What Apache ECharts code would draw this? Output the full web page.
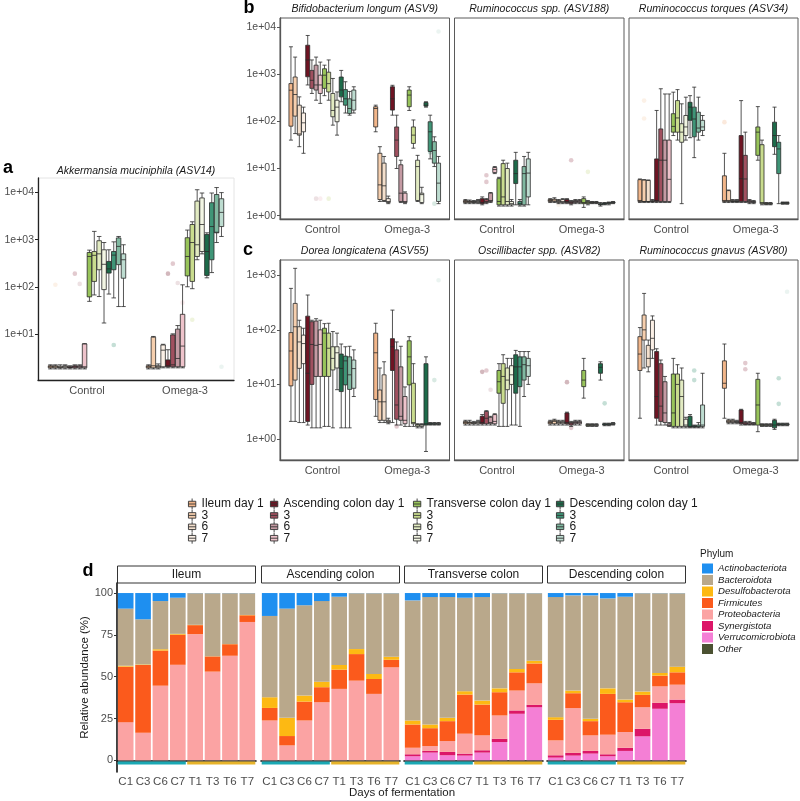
<!DOCTYPE html>
<html><head><meta charset="utf-8">
<script src="https://cdn.jsdelivr.net/npm/echarts@6/dist/echarts.min.js"></script>
<style>html,body{margin:0;padding:0;background:#fff}#c{width:800px;height:801px}</style>
</head><body><div id="c"></div>
<script>
// ---------------- DATA ----------------
const groups = ['Control', 'Omega-3'];
const boxNames = ['Ileum day 1','Ileum 3','Ileum 6','Ileum 7',
  'Ascending colon day 1','Ascending colon 3','Ascending colon 6','Ascending colon 7',
  'Transverse colon day 1','Transverse colon 3','Transverse colon 6','Transverse colon 7',
  'Descending colon day 1','Descending colon 3','Descending colon 6','Descending colon 7'];
const panelTitles = ['Akkermansia muciniphila (ASV14)','Bifidobacterium longum (ASV9)','Ruminococcus spp. (ASV188)',
  'Ruminococcus torques (ASV34)','Dorea longicatena (ASV55)','Oscillibacter spp. (ASV82)','Ruminococcus gnavus (ASV80)'];
const logTicksAB = [1, 10, 100, 1000, 10000];
const logTicksC = [1, 10, 100, 1000];

// [min, Q1, median, Q3, max] per box, order as boxNames
const akkControl = [[1.8,1.9,2.0,2.1,2.2],[1.8,1.9,2.0,2.1,2.2],[1.8,1.9,1.95,2.05,2.2],[1.8,1.9,2.0,2.1,2.2],
  [1.8,1.9,1.95,2.0,2.1],[1.8,1.9,2.0,2.1,2.2],[1.8,1.9,2.0,2.1,2.2],[1.8,1.9,2.0,6.1,6.2],
  [49,61,440,535,600],[67,130,465,560,1500],[62,230,500,950,1170],[17,87,300,610,870],
  [70,195,240,345,610],[58,230,470,560,900],[38,295,720,1090,1170],[38,152,375,500,780]];
const akkOmega = [[1.8,1.9,2.0,2.1,2.2],[1.8,1.9,2.1,8.5,8.8],[1.8,1.9,2.0,2.1,2.3],[1.9,2.0,4.5,5.8,6.0],
  [1.9,2.0,2.1,2.8,4.6],[1.9,2.0,2.2,9.5,10],[1.9,2.0,3.0,12.6,15],[1.9,2.0,5.5,26,110],
  [100,170,440,1100,1600],[91,130,870,2100,2400],[375,440,780,6600,11500],[500,560,2100,7700,9800],
  [155,174,560,1290,1400],[200,375,1900,6100,9800],[870,1400,1440,9100,12800],[1170,1900,3800,7400,10000]];
const akkOutliers = [[0,1,110],[0,5,190],[0,6,115],[0,13,5.8],[1,4,190],[1,5,310],[1,6,120],[1,7,46],[1,9,20],[1,15,2]];

const bifControl = [[40,79,457,631,3800],[55,129,370,870,2300],[29,51,54,220,330],[21,60,93,150,200],
  [590,880,2000,4100,6600],[390,500,740,1200,2000],[280,460,590,1550,2300],[240,390,590,950,1800],
  [350,500,950,1300,1550],[280,420,630,1100,2000],[83,125,170,390,810],[51,98,200,280,420],
  [260,330,460,870,1200],[150,220,300,470,690],[135,147,187,300,430],[150,173,280,460,540]];
const bifOmega = [[60,76,187,204,220],[2,2.2,4.5,21,29],[2,2.1,4.3,13,18],[1.8,1.9,2,2.3,2.6],
  [135,173,300,540,580],[10,18,40,76,135],[1.9,2,3,12,15],[1.8,1.9,2,3,3.2],
  [170,204,360,460,540],[27,34,51,76,107],[2,2.1,11,15,19],[1.8,1.9,2.8,3,4],
  [200,210,220,250,260],[16,23,60,98,135],[11,13,24,37,47],[1.8,2,4.9,13,18]];
const bifOutliers = [[0,6,2.3],[0,7,2.3],[0,9,2.3],[1,15,8000],[1,13,22],[1,14,1.8]];

const rspControl = [[1.8,1.9,2.0,2.1,2.2],[1.8,1.9,2.0,2.05,2.15],[1.8,1.9,1.95,2.0,2.1],[1.8,1.9,2.0,2.1,2.2],
  [1.7,1.8,1.9,2.3,2.5],[1.8,1.9,2.0,2.2,2.3],[1.9,2.0,2.1,3.0,3.1],[7.8,8.2,9.5,10.5,11],
  [1.6,1.7,2.0,6.1,6.5],[1.6,1.7,2.5,12.7,15],[1.6,1.7,2.0,10,13],[1.6,1.7,1.8,2.0,2.2],
  [1.7,4.8,7.8,15,22],[1.6,1.7,1.8,2.0,2.2],[1.6,1.7,7.8,11,18],[1.7,2.5,8,16,22]];
const rspOmega = [[1.9,2.0,2.1,2.2,2.3],[1.9,2.0,2.15,2.25,2.4],[1.8,1.9,2.0,2.1,2.2],[1.8,1.9,2.0,2.2,2.3],
  [1.8,1.9,2.0,2.2,2.3],[1.7,1.8,1.9,2.0,2.1],[1.8,1.9,2.0,2.1,2.2],[1.8,1.9,2.0,2.1,2.2],
  [1.5,1.8,1.9,2.3,2.5],[1.7,1.8,1.9,2.0,2.1],[1.8,1.85,1.9,1.95,2.0],[1.8,1.85,1.9,1.95,2.0],
  [1.6,1.7,1.75,1.8,1.9],[1.7,1.75,1.8,1.85,1.9],[1.7,1.8,1.85,1.9,1.95],[1.8,1.85,1.9,1.95,2.0]];
const rspOutliers = [[0,5,7.2],[0,5,5.2],[1,5,15],[1,9,8.5],[1,2,1.7]];

const rtoControl = [[1.9,2.0,2.1,5.8,6.0],[1.9,2.0,2.0,5.7,5.8],[1.9,2.0,2.0,5.6,5.7],[1.9,2.0,2.0,2.1,2.2],
  [1.9,2.0,2.1,16,170],[1.9,2.0,15,69,490],[1.9,2.0,15,40,380],[1.9,2.0,5.9,40,380],
  [50,59,78,145,415],[40,59,118,275,470],[1.8,36,59,89,235],[40,50,76,133,325],
  [45,105,200,253,350],[17,47,112,200,530],[40,59,72,156,325],[50,64,76,105,133]];
const rtoOmega = [[1.9,2.0,2.1,7.0,21],[1.9,2.0,2.1,3.4,3.5],[1.9,2.0,2.0,2.1,2.2],[1.9,2.0,2.0,2.1,2.2],
  [1.9,2.0,6.1,50,275],[1.9,2.0,6.0,19,59],[1.8,1.9,2.0,2.1,2.2],[1.8,1.9,1.95,2.0,2.1],
  [15,19,59,76,205],[1.7,1.8,1.9,32,40],[1.7,1.75,1.8,1.85,1.9],[1.7,1.75,1.8,1.85,1.9],
  [20,29,50,96,200],[1.8,7.8,26,36,50],[1.75,1.8,1.85,1.9,1.95],[1.75,1.8,1.85,1.9,1.95]];
const rtoOutliers = [[0,1,275],[0,1,115],[1,0,96]];

const dorControl = [[2.1,9.4,41,89,575],[2.1,12,114,305,1340],[2.0,19.7,60,114,150],[2.0,24,56,80,107],
  [1.8,2.1,16,178,435],[1.6,10,54,141,150],[1.6,14,52,145,160],[1.6,14,54,100,150],
  [1.7,14,87,107,130],[1.7,14,46,87,132],[1.6,18.4,30,49,93],[8,20,38,49,87],
  [1.6,7.4,19.6,36,55],[1.6,9.8,27,33,49],[1.6,8.1,15,32,50],[6,8.5,19.5,28,43]];
const dorOmega = [[2.6,5.3,38,87,132],[2.0,2.2,4.8,7.9,20],[2.0,2.2,4.8,15,26],[1.9,2.0,2.1,2.2,2.4],
  [2.0,18,49,69,230],[1.8,2.3,4.2,43,60],[1.8,2.2,2.6,21,50],[1.7,1.9,2.2,6,9],
  [1.7,9.8,32,63,75],[1.7,1.9,2.0,10.5,24],[1.6,1.7,1.8,1.85,1.9],[1.6,1.7,1.8,1.85,1.9],
  [0.59,1.8,1.9,24,32],[1.8,1.85,1.9,1.95,2.0],[1.8,1.85,1.9,1.95,2.0],[1.8,1.85,1.9,1.95,2.0]];
const dorOutliers = [[1,15,810],[1,14,12],[1,5,1.7]];

const oscControl = [[1.8,1.9,2.0,2.1,2.2],[1.8,1.9,2.0,2.05,2.2],[1.8,1.9,1.95,2.0,2.1],[1.8,1.9,2.0,2.1,2.2],
  [1.8,1.9,2.0,2.6,2.8],[1.8,1.9,2.4,3.2,3.3],[1.8,1.9,2.0,2.5,2.6],[1.8,1.9,2.1,2.8,2.9],
  [1.7,6.9,11.2,18,24],[1.7,4.5,14,24,35],[1.7,8,12,20,30],[1.8,10,15,22,30],
  [1.8,6.9,21,35,42],[1.7,9.1,21,32,40],[6,12,23,32,40],[10,14,22,30,40]];
const oscOmega = [[1.8,1.9,2.0,2.1,2.2],[1.8,1.9,2.1,2.2,2.3],[1.8,1.9,2.0,2.1,2.2],[1.8,1.9,2.0,2.1,2.2],
  [1.8,1.9,2.0,3.0,3.1],[1.7,1.8,1.9,2.0,2.1],[1.8,1.9,2.0,2.1,2.2],[1.8,1.9,2.0,2.1,2.2],
  [5.6,9.1,12,18,30],[1.7,1.75,1.8,1.85,1.9],[1.7,1.75,1.8,1.85,1.9],[1.7,1.75,1.8,1.85,1.9],
  [12,16,20.6,24,26],[1.75,1.8,1.85,1.9,1.95],[1.75,1.8,1.85,1.9,1.95],[1.8,1.85,1.9,1.95,2.0]];
const oscOutliers = [[0,5,18],[0,4,17],[0,6,8],[1,4,11],[1,13,4.5],[1,5,1.6]];

const rgnControl = [[2.4,18,36,75,110],[20,65,100,187,465],[17,21,30,52,65],[30,43,70,150,180],
  [1.8,2.4,6,40,45],[1.8,2.1,4,24,28],[1.8,2.0,3,11.2,14],[1.7,1.75,1.8,1.9,2.0],
  [1.6,1.7,3,15.5,30],[1.6,1.7,10,15.5,23],[1.6,1.7,6,12,20],[1.6,1.7,1.8,2.3,2.5],
  [1.6,1.65,1.7,2.6,2.8],[1.6,1.65,1.7,1.75,1.8],[1.6,1.65,1.7,1.8,2.0],[1.6,1.7,1.8,4.2,16]];
const rgnOmega = [[2.4,8.5,10.5,27,55],[1.9,2.0,2.1,2.2,2.3],[1.9,2.0,2.1,2.2,2.3],[1.9,2.0,2.05,2.1,2.2],
  [1.8,1.9,2.0,3.4,3.5],[1.8,1.85,1.9,2.0,2.1],[1.8,1.85,1.9,2.0,2.1],[1.8,1.85,1.9,1.95,2.0],
  [1.36,1.8,4.2,12.4,16],[1.7,1.75,1.8,1.85,1.9],[1.7,1.75,1.8,1.85,1.9],[1.7,1.75,1.8,1.85,1.9],
  [1.5,1.6,1.8,2.2,2.3],[1.75,1.8,1.85,1.9,1.95],[1.75,1.8,1.85,1.9,1.95],[1.75,1.8,1.85,1.9,1.95]];
const rgnOutliers = [[1,5,24.6],[1,5,19],[1,13,13],[1,13,4.4],[1,15,500],[0,13,18],[0,13,12]];

// Panel d
const days = ['C1','C3','C6','C7','T1','T3','T6','T7'];
const sites = ['Ileum','Ascending colon','Transverse colon','Descending colon'];
const phylumNames = ['Actinobacteriota','Bacteroidota','Desulfobacterota','Firmicutes','Proteobacteria','Synergistota','Verrucomicrobiota','Other'];
const conditionSpans = [[0,3,0],[4,7,1]]; // first day idx, last day idx, condition (Control / Omega-3)
const actinobacteriota = [[9.3,15.7,4.8,2.8,0.1,0.1,0.1,0.1],[13.7,9.3,7.3,4.8,2.2,0.1,0.1,0.1],
  [4.4,2.4,2.4,2.8,2.4,0.1,0.1,0.1],[2.4,1.4,1.4,3.2,2.2,0.1,0.1,0.1]];
const bacteroidota = [[34.2,27,28.8,21.6,18.9,37.7,30.4,13],[48.6,65.3,54,48.2,40.8,33.4,48.3,38],
  [71.8,76.2,72.2,55.9,61.9,56.9,45.3,40.4],[71.8,56.9,73.8,53.8,61.5,58.8,47.7,43.9]];
const desulfobacterota = [[0.5,0.3,0.8,0.5,0.2,0.1,0.1,0.2],[6.4,10.9,3.6,3.3,2.8,3,3,1.8],
  [2.4,2.2,2,2,2.4,2.3,2,1.6],[1.6,1.6,1.4,3.3,1.6,2,1.6,3.4]];
const firmicutes = [[33.2,40.5,21,18,5.4,9.1,6.9,4],[7.5,5.6,11.3,9,11.5,15.9,8.9,4.5],
  [13.9,10.7,11.9,23.4,18.4,13.9,10.9,11.9],[12.3,8.9,8.5,24.4,17.8,7.4,6.4,7.4]];
const proteobacteria = [[22.8,16.5,44.6,57.1,75.4,53,62.5,82.7],[23.8,8.9,23.8,34.7,42.7,47.6,39.7,55.6],
  [3.9,2.9,6.5,11.9,8.9,13.9,11.9,12.9],[8.9,26.8,9.3,11.7,9.4,12.9,9.9,8.9]];
const synergistota = [[0,0,0,0,0,0,0,0],[0,0,0,0,0,0,0,0],
  [1.2,1.0,2,1.2,1.4,2,2,1.4],[1.4,1.6,1.6,1.2,1.9,4.5,3.5,2.2]];
const verrucomicrobiota = [[0,0,0,0,0,0,0,0],[0,0,0,0,0,0,0,0],
  [2.4,4.6,3,2.8,4.6,10.9,27.8,31.7],[1.6,2.8,4,2.4,5.6,14.3,30.8,34.1]];
const otherPhyla = [[0,0,0,0,0,0,0,0],[0,0,0,0,0,0,0,0],[0,0,0,0,0,0,0,0],[0,0,0,0,0,0,0,0]];
const percentTicks = [0,25,50,75,100];

// ---------------- STYLE ----------------
const FONT = "'Liberation Sans', Arial, Helvetica, sans-serif";
const boxColors = ['#f2b68a','#f6cfae','#f3dfcc','#fbf0e6',
  '#6e1423','#a0505f','#c49aa3','#eec3cb',
  '#98c45a','#c9dc8e','#e2ebc2','#f3f6e4',
  '#1d6b4a','#3f9577','#80b9a1','#bddcd0'];
const phylumColors = {Actinobacteriota:'#1e8ff0',Bacteroidota:'#b9a88b',Desulfobacterota:'#fdb913',Firmicutes:'#fb5a1c',
  Proteobacteria:'#fba3a3',Synergistota:'#dc1668',Verrucomicrobiota:'#f47fd5',Other:'#4b5132'};
const condColors = ['#1ba8b3','#e6b32a'];
const labelColor = '#4d4d4d';
const textColor = '#1a1a1a';

function logFmt(v){ const e = Math.round(Math.log10(v)); return '1e' + (e < 0 ? '-' : '+') + String(Math.abs(e)).padStart(2,'0'); }

const boxPanels = [
  {g:[38,178,196,202], c:akkControl, o:akkOmega, out:akkOutliers, min:1.047, max:20417, ticks:[10,100,1000,10000], showY:true, bw:4.5, light:true},
  {g:[280,18,169.5,201], c:bifControl, o:bifOmega, out:bifOutliers, min:0.851, max:15488, ticks:logTicksAB, showY:true, bw:4},
  {g:[454.5,18,169.5,201], c:rspControl, o:rspOmega, out:rspOutliers, min:0.851, max:15488, ticks:logTicksAB, showY:false, bw:4},
  {g:[629,18,169,201], c:rtoControl, o:rtoOmega, out:rtoOutliers, min:0.851, max:15488, ticks:logTicksAB, showY:false, bw:4},
  {g:[280,260,169.5,200], c:dorControl, o:dorOmega, out:dorOutliers, min:0.412, max:1905, ticks:logTicksC, showY:true, bw:4},
  {g:[454.5,260,169.5,200], c:oscControl, o:oscOmega, out:oscOutliers, min:0.412, max:1905, ticks:logTicksC, showY:false, bw:4},
  {g:[629,260,169,200], c:rgnControl, o:rgnOmega, out:rgnOutliers, min:0.412, max:1905, ticks:logTicksC, showY:false, bw:4}
];

const grids = [], xAxes = [], yAxes = [], series = [], graphics = [];

boxPanels.forEach((p, i) => {
  grids.push({left:p.g[0], top:p.g[1], width:p.g[2], height:p.g[3], show:true,
    borderColor: p.light ? '#e4e4e4' : '#5a5a5a', borderWidth:1, containLabel:false, outerBoundsMode:'none'});
  const axCol = p.light ? '#222' : '#555';
  xAxes.push({type:'category', gridIndex:i, data:groups,
    axisLine:{lineStyle:{color:axCol, width:1.3}},
    axisTick:{alignWithLabel:true, length:3, lineStyle:{color:axCol}},
    axisLabel:{fontSize:11, color:labelColor, margin:5, fontFamily:FONT}, splitLine:{show:false}});
  yAxes.push({type:'log', logBase:10, gridIndex:i, min:p.min, max:p.max,
    axisLine:{show:p.showY, lineStyle:{color:axCol, width:1.3}},
    axisTick:{show:p.showY, length:3, customValues:p.ticks, lineStyle:{color:axCol}},
    axisLabel:{show:p.showY, customValues:p.ticks, formatter:logFmt, fontSize:10.5, color:labelColor, margin:4, fontFamily:FONT},
    splitLine:{show:false}, minorTick:{show:false}});
  boxNames.forEach((nm, k) => {
    series.push({type:'boxplot', name:nm, xAxisIndex:i, yAxisIndex:i, silent:true,
      data:[p.c[k], p.o[k]], boxWidth:[p.bw, p.bw],
      itemStyle:{color:boxColors[k], borderColor:'#2a2a2a', borderWidth:0.8},
      emphasis:{disabled:true}});
  });
  series.push({type:'custom', xAxisIndex:i, yAxisIndex:i, silent:true, z:1,
    data:p.out, encode:{x:0, y:2},
    renderItem:function(params, api){
      const cat = api.value(0), bi = api.value(1), v = api.value(2);
      const pt = api.coord([cat, v]);
      const bw = api.size([1, 0], [cat, v])[0];
      const n = 16, avail = bw * 0.8 - 2, gap = avail / n * 0.3, w = (avail - gap * (n - 1)) / n;
      const off = w / 2 - avail / 2 + bi * (gap + w);
      return {type:'circle', shape:{cx:pt[0] + off, cy:pt[1], r:2.3}, style:{fill:boxColors[bi], opacity:0.3}};
    }});
  graphics.push({type:'text', x:p.g[0] + p.g[2] / 2, y:p.g[1] - (i === 0 ? 7 : 8.5),
    style:{text:panelTitles[i], fill:textColor, fontSize:10.5, fontStyle:'italic', fontFamily:FONT,
      align:'center', verticalAlign:'middle', textAlign:'center', textVerticalAlign:'middle'}});
});

// Panel d
const dLefts = [117, 261, 404, 547];
const phylumData = {Actinobacteriota:actinobacteriota, Bacteroidota:bacteroidota, Desulfobacterota:desulfobacterota,
  Firmicutes:firmicutes, Proteobacteria:proteobacteria, Synergistota:synergistota, Verrucomicrobiota:verrucomicrobiota, Other:otherPhyla};
const stackOrder = phylumNames.slice().reverse();
sites.forEach((site, s) => {
  const gi = boxPanels.length + s;
  grids.push({left:dLefts[s], top:583, width:139, height:189, show:false, containLabel:false, outerBoundsMode:'none'});
  xAxes.push({type:'category', gridIndex:gi, data:days,
    axisLine:{lineStyle:{color:'#111', width:1.6}},
    axisTick:{alignWithLabel:true, length:3, lineStyle:{color:'#333'}},
    axisLabel:{fontSize:11.5, color:labelColor, margin:4, fontFamily:FONT, interval:0}});
  yAxes.push({type:'value', gridIndex:gi, min:-7, max:106,
    show: s === 0,
    name: s === 0 ? 'Relative abundance (%)' : '', nameLocation:'middle', nameGap:24, nameRotate:90,
    nameTextStyle:{fontSize:11.5, color:textColor, fontFamily:FONT},
    axisLine:{show:true, lineStyle:{color:'#111', width:1.6}},
    axisTick:{show:true, length:3, customValues:percentTicks, lineStyle:{color:'#333'}},
    axisLabel:{customValues:percentTicks, fontSize:11, color:labelColor, margin:4, fontFamily:FONT},
    splitLine:{show:false}});
  stackOrder.forEach(ph => {
    series.push({type:'bar', name:ph, stack:'st' + s, xAxisIndex:gi, yAxisIndex:gi, silent:true,
      data:phylumData[ph][s], barWidth:'90%', itemStyle:{color:phylumColors[ph]}, emphasis:{disabled:true}});
  });
  series.push({type:'custom', xAxisIndex:gi, yAxisIndex:gi, silent:true, data:conditionSpans, encode:{x:[0,1], y:2},
    renderItem:function(params, api){
      const a = api.value(0), b = api.value(1), c = api.value(2);
      const p1 = api.coord([a, -0.7]), p2 = api.coord([b, -2.5]);
      const bw = api.size([1, 0], [a, 0])[0];
      const x1 = p1[0] - bw * 0.46, x2 = p2[0] + bw * 0.46;
      return {type:'rect', shape:{x:x1, y:p1[1], width:x2 - x1, height:p2[1] - p1[1]}, style:{fill:condColors[c]}};
    }});
  graphics.push({type:'rect', shape:{x:dLefts[s] + 0.5, y:566, width:138, height:17}, style:{fill:'#ffffff', stroke:'#333', lineWidth:1}});
  graphics.push({type:'text', x:dLefts[s] + 69.5, y:575,
    style:{text:site, fill:textColor, fontSize:12, fontFamily:FONT, align:'center', verticalAlign:'middle', textAlign:'center', textVerticalAlign:'middle'}});
});

[['a',8,168],['b',249,8.5],['c',248,250],['d',88,571]].forEach(l => {
  graphics.push({type:'text', x:l[1], y:l[2], style:{text:l[0], fill:'#000', fontSize:18, fontWeight:'bold', fontFamily:FONT,
    align:'center', verticalAlign:'middle', textAlign:'center', textVerticalAlign:'middle'}});
});
graphics.push({type:'text', x:402, y:793, style:{text:'Days of fermentation', fill:textColor, fontSize:11.5, fontFamily:FONT,
  align:'center', verticalAlign:'middle', textAlign:'center', textVerticalAlign:'middle'}});
graphics.push({type:'text', x:700, y:554, style:{text:'Phylum', fill:textColor, fontSize:10, fontFamily:FONT,
  align:'left', verticalAlign:'middle', textAlign:'left', textVerticalAlign:'middle'}});

const boxLegendLefts = [188, 270, 413, 556];
const legends = boxLegendLefts.map((lx, k) => ({
  orient:'vertical', left:lx, top:498, padding:0, itemWidth:9, itemHeight:11, itemGap:-0.6, selectedMode:false,
  icon:'path://M5,0L5,3M1,3L9,3L9,9L1,9ZM1,6L9,6M5,9L5,12',
  data:boxNames.slice(k * 4, k * 4 + 4).map((nm, j) => ({name:nm,
    itemStyle:{color:boxColors[k * 4 + j], borderColor:'#333', borderWidth:0.9}})),
  formatter: nm => nm.indexOf('day') >= 0 ? nm : nm.split(' ').pop(),
  textStyle:{fontSize:12, color:textColor, fontFamily:FONT}
}));
legends.push({orient:'vertical', left:702, top:563.5, padding:0, itemWidth:11, itemHeight:10, itemGap:1.5, selectedMode:false, icon:'rect',
  data:phylumNames, textStyle:{fontSize:9.6, fontStyle:'italic', color:textColor, fontFamily:FONT, lineHeight:10}});

const chart = echarts.init(document.getElementById('c'), null, {renderer:'canvas', width:800, height:801});
chart.setOption({
  animation:false, backgroundColor:'#ffffff',
  textStyle:{fontFamily:FONT},
  grid:grids, xAxis:xAxes, yAxis:yAxes, legend:legends, series:series, graphic:graphics,
  tooltip:{show:false}
});
</script></body></html>
